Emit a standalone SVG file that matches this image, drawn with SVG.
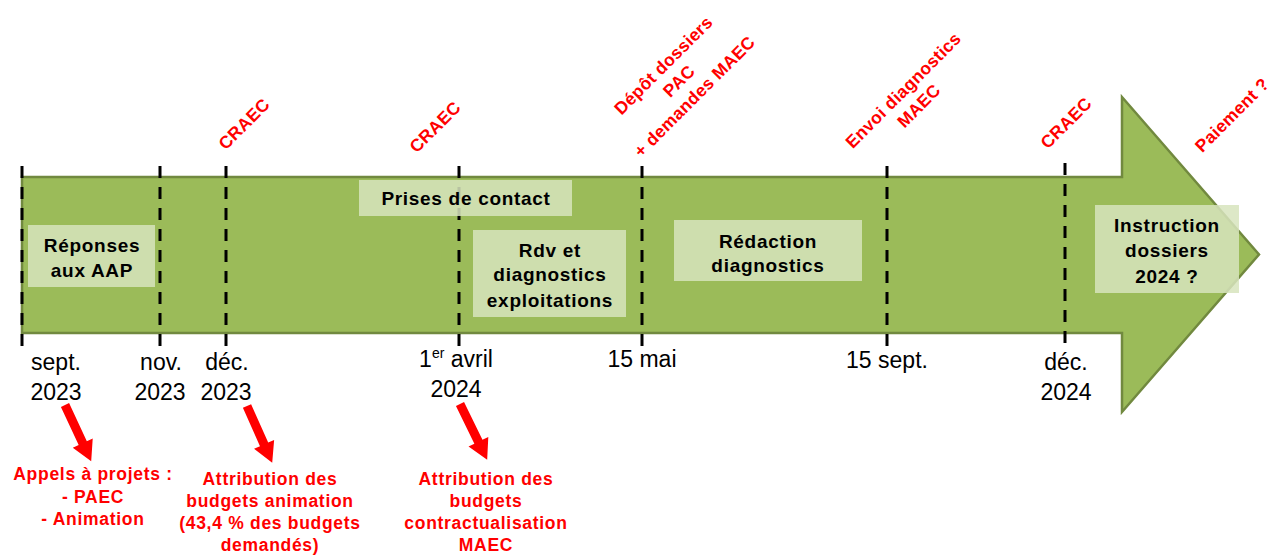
<svg xmlns="http://www.w3.org/2000/svg" xmlns:xlink="http://www.w3.org/1999/xlink" width="1279" height="555" viewBox="0 0 1279 555">
<style>
  text { font-family: "Liberation Sans", Arial, sans-serif; }
  .box { fill: #D7E4BD; fill-opacity: 0.85; }
  .bt { font-size: 19px; font-weight: bold; fill: #000; text-anchor: middle; letter-spacing: 0.7px; }
  .dt { font-size: 23px; fill: #000; text-anchor: middle; }
  .rt { font-size: 17.5px; font-weight: bold; fill: #FF0000; text-anchor: middle; letter-spacing: 0.3px; }
  .rb { font-size: 17.5px; font-weight: bold; fill: #FF0000; text-anchor: middle; letter-spacing: 0.7px; }
  .tick { stroke: #000; stroke-width: 3; stroke-dasharray: 12 9; fill: none; }
</style>
<defs>
  <path id="ra" d="M0,-4.5 L42,-4.5 L42,-11 L62,0 L42,11 L42,4.5 L0,4.5 Z" fill="#FF0000"/>
</defs>
<rect width="1279" height="555" fill="#FFFFFF"/>

<g id="timeline-arrow">
  <path d="M22,177 L1122,177 L1122,97 L1259,254.5 L1122,412 L1122,333 L22,333 Z" fill="#9BBB59" stroke="#71893F" stroke-width="2.5" stroke-linejoin="miter"/>
</g>

<g id="connectors">
  <line class="tick" x1="22" y1="166" x2="22" y2="346"/>
  <line class="tick" x1="160" y1="166" x2="160" y2="346"/>
  <line class="tick" x1="226" y1="166" x2="226" y2="346"/>
  <line class="tick" x1="459" y1="166" x2="459" y2="346"/>
  <line class="tick" x1="642" y1="166" x2="642" y2="346"/>
  <line class="tick" x1="887" y1="166" x2="887" y2="346"/>
  <line class="tick" x1="1065" y1="163" x2="1065" y2="346"/>
  <use xlink:href="#ra" href="#ra" transform="translate(65,405) rotate(65)"/>
  <use xlink:href="#ra" href="#ra" transform="translate(247,406) rotate(66)"/>
  <use xlink:href="#ra" href="#ra" transform="translate(460,404) rotate(64)"/>
</g>

<g id="node-reponses">
  <rect class="box" x="28" y="225" width="127" height="62"/>
  <text class="bt" x="92" y="252">Réponses</text>
  <text class="bt" x="92" y="277">aux AAP</text>
</g>
<g id="node-prises">
  <rect class="box" x="359" y="180" width="213" height="36"/>
  <text class="bt" x="466" y="205">Prises de contact</text>
</g>
<g id="node-rdv">
  <rect class="box" x="473" y="230" width="153" height="87"/>
  <text class="bt" x="550" y="257">Rdv et</text>
  <text class="bt" x="550" y="281">diagnostics</text>
  <text class="bt" x="550" y="306.5">exploitations</text>
</g>
<g id="node-redaction">
  <rect class="box" x="674" y="220" width="188" height="61"/>
  <text class="bt" x="768" y="247.5">Rédaction</text>
  <text class="bt" x="768" y="271.5">diagnostics</text>
</g>
<g id="node-instruction">
  <rect class="box" x="1095" y="205" width="144" height="88"/>
  <text class="bt" x="1167" y="231.5">Instruction</text>
  <text class="bt" x="1167" y="256.5">dossiers</text>
  <text class="bt" x="1167" y="282.5">2024 ?</text>
</g>

<g id="dates">
  <text class="dt" x="56" y="370">sept.</text>
  <text class="dt" x="56" y="400">2023</text>
  <text class="dt" x="161" y="370">nov.</text>
  <text class="dt" x="160" y="400">2023</text>
  <text class="dt" x="227" y="370">déc.</text>
  <text class="dt" x="226" y="400">2023</text>
  <text class="dt" x="456" y="367">1<tspan font-size="14" dy="-9">er</tspan><tspan dy="9"> avril</tspan></text>
  <text class="dt" x="456" y="397">2024</text>
  <text class="dt" x="642" y="367">15 mai</text>
  <text class="dt" x="887" y="368">15 sept.</text>
  <text class="dt" x="1066" y="370">déc.</text>
  <text class="dt" x="1066" y="400">2024</text>
</g>

<g id="top-labels">
  <text class="rt" transform="translate(244,124) rotate(-45)" y="6">CRAEC</text>
  <text class="rt" transform="translate(435,127) rotate(-45)" y="6">CRAEC</text>
  <text class="rt" transform="translate(1066,123) rotate(-45)" y="6">CRAEC</text>
  <text class="rt" transform="translate(1232,115) rotate(-45)" y="6">Paiement ?</text>
  <g transform="translate(679,81) rotate(-45)">
    <text class="rt" x="0" y="-16">Dépôt dossiers</text>
    <text class="rt" x="0" y="6">PAC</text>
    <text class="rt" x="0" y="28">+ demandes MAEC</text>
  </g>
  <g transform="translate(911,98) rotate(-45)">
    <text class="rt" x="0" y="-5">Envoi diagnostics</text>
    <text class="rt" x="0" y="17">MAEC</text>
  </g>
</g>

<g id="bottom-labels">
  <text class="rb" x="93" y="480">Appels à projets :</text>
  <text class="rb" x="93" y="503">- PAEC</text>
  <text class="rb" x="93" y="525">- Animation</text>
  <text class="rb" x="270" y="485">Attribution des</text>
  <text class="rb" x="270" y="507">budgets animation</text>
  <text class="rb" x="270" y="529">(43,4 % des budgets</text>
  <text class="rb" x="270" y="551">demandés)</text>
  <text class="rb" x="486" y="485">Attribution des</text>
  <text class="rb" x="486" y="507">budgets</text>
  <text class="rb" x="486" y="529">contractualisation</text>
  <text class="rb" x="486" y="551">MAEC</text>
</g>
</svg>
